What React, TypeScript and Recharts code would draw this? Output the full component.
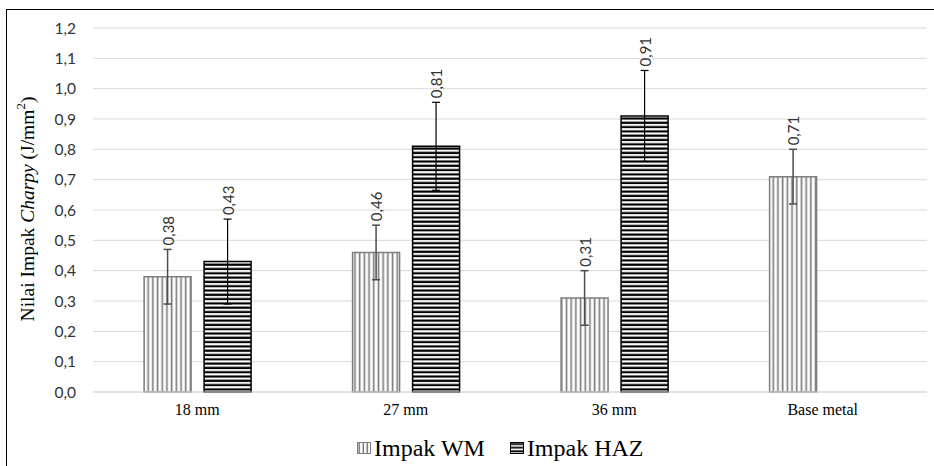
import React from 'react';
import { BarChart, Bar, XAxis, YAxis, CartesianGrid, ErrorBar, LabelList, Label } from 'recharts';

const categories = ['18 mm', '27 mm', '36 mm', 'Base metal'];
const wmValues = [0.38, 0.46, 0.31, 0.71];
const wmErrors = [0.09, 0.09, 0.09, 0.09];
const hazValues = [0.43, 0.81, 0.91, null];
const hazErrors = [0.14, 0.145, 0.15, null];
const yTicks = [0, 0.1, 0.2, 0.3, 0.4, 0.5, 0.6, 0.7, 0.8, 0.9, 1.0, 1.1, 1.2];

const data = categories.map((name, i) => ({
  name,
  wm: wmValues[i],
  wmErr: wmErrors[i],
  haz: hazValues[i],
  hazErr: hazErrors[i],
}));

const numFont = 'Lato, "Open Sans", sans-serif';
const serif = '"Liberation Serif", "Times New Roman", serif';
const comma = (v: number) => v.toFixed(1).replace('.', ',');

// rotated value label sitting just above the error bar cap
const makeLabel = (errKey: 'wmErr' | 'hazErr') => (props: any) => {
  const { x, y, width, height, value, index } = props;
  if (value == null) return null;
  const err = (data[index] as any)[errKey] || 0;
  const top = y - (err * height) / value;
  const cx = x + width / 2;
  const ty = top - 4;
  return (
    <text
      x={cx}
      y={ty}
      transform={`rotate(-90, ${cx}, ${ty})`}
      textAnchor="start"
      dominantBaseline="central"
      fontFamily={numFont}
      fontSize={15}
      fill="#333"
    >
      {value.toFixed(2).replace('.', ',')}
    </text>
  );
};

const YTitle = () => (
  <text
    x={27}
    y={209}
    transform="rotate(-90, 27, 209)"
    textAnchor="middle"
    dominantBaseline="central"
    fontFamily={serif}
    fontSize={19.5}
    fill="#000"
  >
    Nilai Impak <tspan fontStyle="italic">Charpy</tspan> (J/mm<tspan dy={-7} fontSize={13}>2</tspan>
    <tspan dy={7}>)</tspan>
  </text>
);

const WmIcon = () => (
  <svg width={14} height={12} style={{ display: 'block' }}>
    <defs>
      <pattern id="wmIconPat" patternUnits="userSpaceOnUse" width={4} height={12}>
        <rect x={1.5} y={0} width={1.6} height={12} fill="#7f7f7f" />
      </pattern>
    </defs>
    <rect x={0.5} y={0.5} width={13} height={11} fill="url(#wmIconPat)" stroke="#7f7f7f" />
  </svg>
);

const HazIcon = () => (
  <svg width={14} height={12} style={{ display: 'block' }}>
    <defs>
      <pattern id="hazIconPat" patternUnits="userSpaceOnUse" width={14} height={3.6}>
        <rect x={0} y={1.2} width={14} height={1.8} fill="#000" />
      </pattern>
    </defs>
    <rect x={0.5} y={0.5} width={13} height={11} fill="url(#hazIconPat)" stroke="#000" />
  </svg>
);

export default function App() {
  return (
    <div style={{ position: 'absolute', left: 0, top: 0, width: 934, height: 466, overflow: 'hidden', background: '#fff' }}>
      <div
        style={{
          position: 'absolute',
          left: 6,
          top: 9,
          width: 940,
          height: 470,
          borderLeft: '1.5px solid #000',
          borderTop: '1.5px solid #000',
        }}
      />
      <div style={{ position: 'absolute', left: 0, top: 0 }}>
        <BarChart
          width={934}
          height={466}
          data={data}
          margin={{ top: 28, right: 7, left: 0, bottom: 44 }}
          barCategoryGap="24.5%"
          barGap={13}
        >
          <defs>
            <pattern id="wmPat" patternUnits="userSpaceOnUse" width={4.7} height={10}>
              <rect x={0} y={0} width={4.7} height={10} fill="#fff" />
              <rect x={1.6} y={0} width={1.7} height={10} fill="#7f7f7f" />
            </pattern>
            <pattern id="hazPat" patternUnits="userSpaceOnUse" width={10} height={4.3}>
              <rect x={0} y={0} width={10} height={4.3} fill="#fff" />
              <rect x={0} y={1.3} width={10} height={2.2} fill="#000" />
            </pattern>
          </defs>
          <CartesianGrid vertical={false} stroke="#d9d9d9" />
          <XAxis
            dataKey="name"
            height={30}
            tickLine={false}
            tickSize={0}
            tickMargin={12}
            axisLine={{ stroke: '#d9d9d9' }}
            tick={{ fontFamily: serif, fontSize: 16, fill: '#000' }}
          />
          <YAxis
            width={93}
            domain={[0, 1.2]}
            ticks={yTicks}
            interval={0}
            axisLine={false}
            tickLine={false}
            tickSize={0}
            tickMargin={17}
            tickFormatter={comma}
            tick={{ fontFamily: numFont, fontSize: 15.5, fill: '#333' }}
          >
            <Label content={<YTitle />} />
          </YAxis>
          <Bar dataKey="wm" fill="url(#wmPat)" stroke="#7f7f7f" strokeWidth={1.5} isAnimationActive={false}>
            <ErrorBar dataKey="wmErr" width={4} stroke="#4d4d4d" strokeWidth={1.5} />
            <LabelList dataKey="wm" content={makeLabel('wmErr')} />
          </Bar>
          <Bar dataKey="haz" fill="url(#hazPat)" stroke="#000" strokeWidth={1.5} isAnimationActive={false}>
            <ErrorBar dataKey="hazErr" width={4} stroke="#000" strokeWidth={1.2} />
            <LabelList dataKey="haz" content={makeLabel('hazErr')} />
          </Bar>
        </BarChart>
      </div>
      <div
        style={{
          position: 'absolute',
          left: 357,
          top: 433,
          display: 'flex',
          alignItems: 'center',
          fontFamily: serif,
          fontSize: 24,
          color: '#000',
          whiteSpace: 'nowrap',
          lineHeight: '30px',
        }}
      >
        <WmIcon />
        <span style={{ marginLeft: 3 }}>Impak WM</span>
        <span style={{ width: 25 }} />
        <HazIcon />
        <span style={{ marginLeft: 3 }}>Impak HAZ</span>
      </div>
    </div>
  );
}
